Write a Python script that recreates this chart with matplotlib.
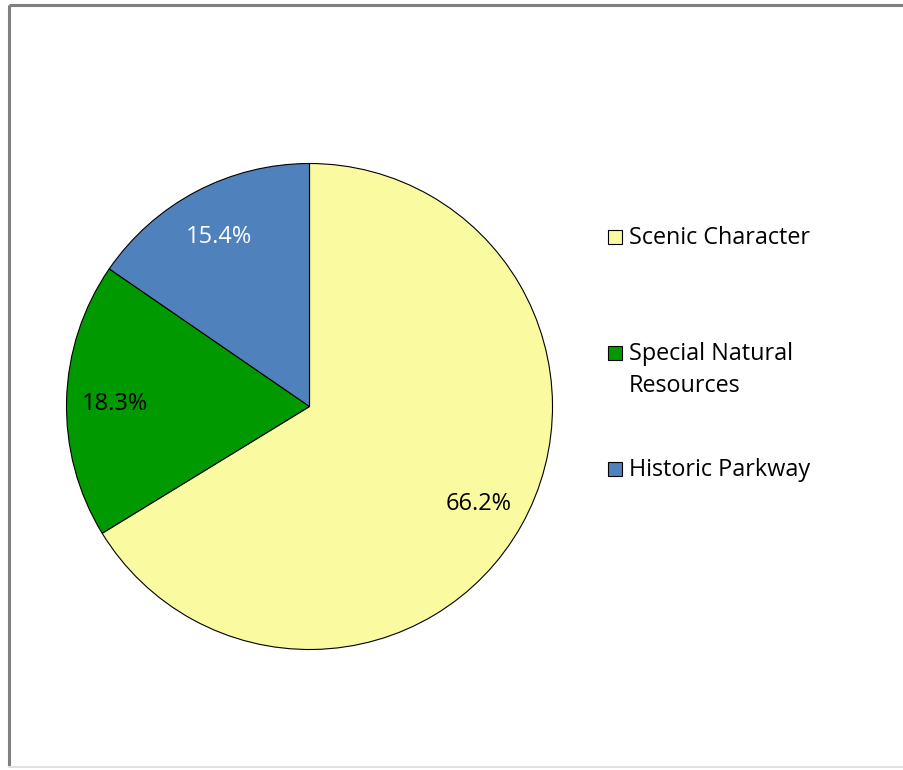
import matplotlib.pyplot as plt
from matplotlib.patches import Rectangle

plt.rcParams['font.family'] = ['Open Sans', 'DejaVu Sans']

categories = ['Scenic Character', 'Special Natural\nResources', 'Historic Parkway']
shares = [66.2, 18.3, 15.4]
colors = ['#FAFAA0', '#009900', '#4F81BD']
pct_colors = ['black', 'black', 'white']

W, H = 904, 770
fig = plt.figure(figsize=(W / 100, H / 100), dpi=100)

# pixel-space overlay for the frame and the legend
bg = fig.add_axes([0, 0, 1, 1])
bg.set_xlim(0, W)
bg.set_ylim(H, 0)
bg.axis('off')
bg.plot([9, 9], [5, 767], color='#7f7f7f', lw=2.2, solid_capstyle='butt')
bg.plot([9, W], [5, 5], color='#7f7f7f', lw=2.2, solid_capstyle='butt')
bg.plot([9, W], [766.5, 766.5], color='#e2e2e2', lw=1.5)

# pie: centre (309.5, 406.5), radius 243 px
cx, cy, r = 309.5, 406.5, 243
ax = fig.add_axes([(cx - r) / W, (H - cy - r) / H, 2 * r / W, 2 * r / H])
total = sum(shares)
wedges, texts, autotexts = ax.pie(
    shares, colors=colors, startangle=90, counterclock=False,
    autopct=lambda p: f'{p * total / 100:.1f}%', pctdistance=0.8,
    wedgeprops=dict(edgecolor='black', linewidth=0.8),
    textprops=dict(fontsize=17),
)
for t, c in zip(autotexts, pct_colors):
    t.set_color(c)
    x, y = t.get_position()
    t.set_position((x, y - 0.012))
ax.set_xlim(-1, 1)
ax.set_ylim(-1, 1)

# legend entries
legend_y = [238, 370, 470]
for label, color, y in zip(categories, colors, legend_y):
    top = y - 8 if '\n' not in label else y - 24
    bg.add_patch(Rectangle((608, top), 14, 14, facecolor=color,
                           edgecolor='black', lw=0.8))
    bg.text(629, y, label, fontsize=16.8, va='center', ha='left',
            linespacing=1.5)

fig.savefig('out.png', dpi=100)
